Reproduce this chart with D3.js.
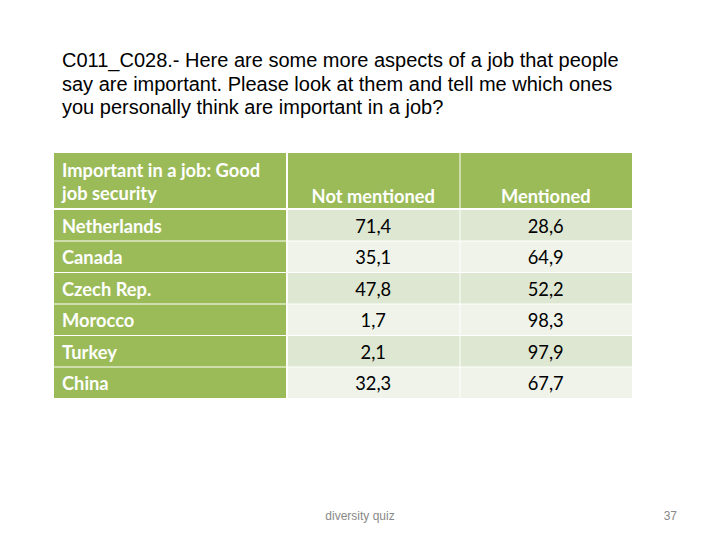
<!DOCTYPE html>
<html>
<head>
<meta charset="utf-8">
<script src="https://cdn.jsdelivr.net/npm/d3@7"></script>
<style>
  body { margin: 0; background: #fff; }
  svg { display: block; }
</style>
</head>
<body>
<svg id="chart"></svg>
<script>
// table content
var titleLines = [
  "C011_C028.- Here are some more aspects of a job that people",
  "say are important. Please look at them and tell me which ones",
  "you personally think are important in a job?"
];
var cornerLabel = ["Important in a job: Good", "job security"];
var columns = ["Not mentioned", "Mentioned"];
var countries = ["Netherlands", "Canada", "Czech Rep.", "Morocco", "Turkey", "China"];
var notMentioned = [71.4, 35.1, 47.8, 1.7, 2.1, 32.3];
var mentioned = [28.6, 64.9, 52.2, 98.3, 97.9, 67.7];

var W = 720, H = 540;
var svg = d3.select("#chart").attr("width", W).attr("height", H);

var green = "#9bbb59",
    rowDark = "#dee7d1",
    rowLight = "#eff3ea";

// title
svg.append("g").selectAll("text")
  .data(titleLines)
  .enter().append("text")
  .attr("x", 62)
  .attr("y", function (d, i) { return 67 + i * 23.5; })
  .attr("font-family", "Liberation Sans, Arial, sans-serif")
  .attr("font-size", 20)
  .attr("fill", "#000")
  .text(function (d) { return d; });

// layout of the table
var left = 54, firstW = 233, right = 632;
var headTop = 153, headBottom = 209;
var x = d3.scaleBand().domain(columns).range([left + firstW, right]);
var y = d3.scaleBand().domain(countries).range([headBottom, 398]);

var values = countries.map(function (c, i) {
  return { country: c, i: i, vals: [notMentioned[i], mentioned[i]] };
});

var fmt = function (v) { return d3.format(".1f")(v).replace(".", ","); };
var gap = 1;
var fs = 18.3;
var table = svg.append("g");

// header row
table.append("rect")
  .attr("x", left).attr("y", headTop)
  .attr("width", firstW - gap).attr("height", headBottom - headTop - gap)
  .attr("fill", green);
table.selectAll(".hcell")
  .data(columns)
  .enter().append("rect")
  .attr("class", "hcell")
  .attr("x", function (d) { return x(d) + gap; })
  .attr("y", headTop)
  .attr("width", x.bandwidth() - gap)
  .attr("height", headBottom - headTop - gap)
  .attr("fill", green);

var boldFont = "Lato, 'Open Sans', sans-serif";
table.selectAll(".corner")
  .data(cornerLabel)
  .enter().append("text")
  .attr("x", 62)
  .attr("y", function (d, i) { return 177 + i * 23; })
  .attr("font-family", boldFont)
  .attr("font-weight", "bold")
  .attr("font-size", fs)
  .attr("fill", "#fff")
  .text(function (d) { return d; });
table.selectAll(".htext")
  .data(columns)
  .enter().append("text")
  .attr("x", function (d) { return x(d) + x.bandwidth() / 2; })
  .attr("y", 203)
  .attr("text-anchor", "middle")
  .attr("font-family", boldFont)
  .attr("font-weight", "bold")
  .attr("font-size", fs)
  .attr("fill", "#fff")
  .text(function (d) { return d; });

// body rows
var rows = table.selectAll(".row")
  .data(values)
  .enter().append("g")
  .attr("class", "row")
  .attr("transform", function (d) { return "translate(0," + y(d.country) + ")"; });

rows.append("rect")
  .attr("x", left).attr("y", gap)
  .attr("width", firstW - gap).attr("height", y.bandwidth() - gap)
  .attr("fill", green);
rows.append("text")
  .attr("x", 62)
  .attr("y", y.bandwidth() / 2 + 8)
  .attr("font-family", boldFont)
  .attr("font-weight", "bold")
  .attr("font-size", fs)
  .attr("fill", "#fff")
  .text(function (d) { return d.country; });

rows.selectAll(".cell")
  .data(function (d) { return d.vals.map(function (v, j) { return { v: v, col: columns[j], i: d.i }; }); })
  .enter().append("rect")
  .attr("x", function (d) { return x(d.col) + gap; })
  .attr("y", gap)
  .attr("width", x.bandwidth() - gap)
  .attr("height", y.bandwidth() - gap)
  .attr("fill", function (d) { return d.i % 2 === 0 ? rowDark : rowLight; });

rows.selectAll(".val")
  .data(function (d) { return d.vals.map(function (v, j) { return { v: v, col: columns[j] }; }); })
  .enter().append("text")
  .attr("x", function (d) { return x(d.col) + x.bandwidth() / 2; })
  .attr("y", y.bandwidth() / 2 + 8)
  .attr("text-anchor", "middle")
  .attr("font-family", boldFont)
  .attr("font-size", fs)
  .attr("fill", "#000")
  .text(function (d) { return fmt(d.v); });

// footer
svg.append("text")
  .attr("x", 360).attr("y", 520)
  .attr("text-anchor", "middle")
  .attr("font-family", "Liberation Sans, Arial, sans-serif")
  .attr("font-size", 12)
  .attr("fill", "#898989")
  .text("diversity quiz");
svg.append("text")
  .attr("x", 677).attr("y", 520)
  .attr("text-anchor", "end")
  .attr("font-family", "Liberation Sans, Arial, sans-serif")
  .attr("font-size", 12)
  .attr("fill", "#898989")
  .text("37");
</script>
</body>
</html>
